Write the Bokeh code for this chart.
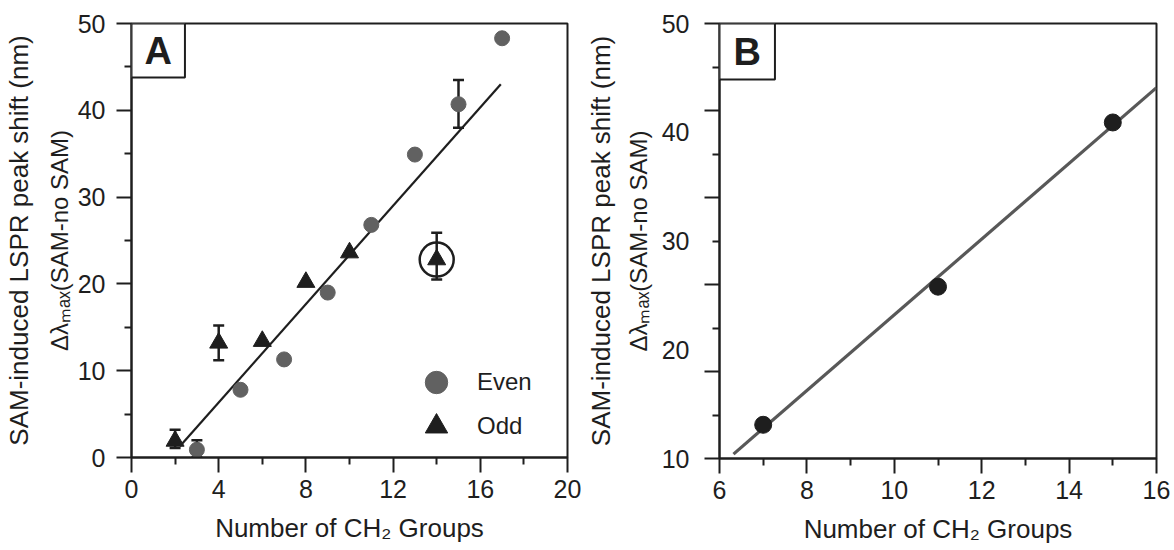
from bokeh.plotting import figure
from bokeh.models import (Range1d, FixedTicker, LinearAxis, Whisker, TeeHead,
                          ColumnDataSource, Label, Legend, LegendItem)
from bokeh.layouts import row
from bokeh.embed import file_html
from bokeh.resources import INLINE

FONT = "Liberation Sans"
INK = "#1e1e1e"
GRAY = "#616161"

# ---------------- Panel A data ----------------
even_x = [3, 5, 7, 9, 11, 13, 15, 17]
even_y = [0.9, 7.8, 11.3, 19.0, 26.8, 34.9, 40.7, 48.3]
odd_x = [2, 4, 6, 8, 10, 14]
odd_y = [1.9, 13.2, 13.4, 20.2, 23.6, 22.8]
even_err_x = [3, 15]
even_err_lo = [0.0, 38.0]
even_err_hi = [2.0, 43.5]
odd_err_x = [2, 4, 14]
odd_err_lo = [1.1, 11.2, 20.5]
odd_err_hi = [3.2, 15.2, 25.9]
outlier_x = [14]
outlier_y = [22.8]
fit_a_x = [2.22, 16.94]
fit_a_y = [1.3, 43.0]
xa_major = [0, 4, 8, 12, 16, 20]
xa_minor = [2, 6, 10, 14, 18]
ya_major = [0, 10, 20, 30, 40, 50]
ya_minor = [5, 15, 25, 35, 45]

# ---------------- Panel B data ----------------
b_x = [7, 11, 15]
b_y = [13.1, 25.8, 40.9]
fit_b_x = [6.32, 16]
fit_b_y = [10.4, 44.1]
xb_major = [6, 8, 10, 12, 14, 16]
xb_minor = [7, 9, 11, 13, 15]
yb_tick_major = [10, 18, 26, 34, 42, 50]
yb_tick_minor = [14, 22, 30, 38, 46]
yb_labels = [10, 20, 30, 40, 50]

YLABEL1 = "SAM-induced LSPR peak shift (nm)"
YLABEL2 = "\u0394\u03bb\u2098\u2090\u2093(SAM-no SAM)"
XLABEL = "Number of CH\u2082 Groups"


def style_axis(ax, major, minor, label_standoff):
    ax.ticker = FixedTicker(ticks=major, minor_ticks=minor)
    ax.axis_line_color = INK
    ax.axis_line_width = 2
    ax.major_tick_line_color = INK
    ax.major_tick_line_width = 2
    ax.minor_tick_line_color = INK
    ax.minor_tick_line_width = 2
    ax.major_tick_out = 15
    ax.major_tick_in = 0
    ax.minor_tick_out = 7
    ax.minor_tick_in = 0
    ax.major_label_text_font = FONT
    ax.major_label_text_font_size = "25px"
    ax.major_label_text_color = INK
    ax.major_label_standoff = label_standoff
    ax.axis_label_text_font = FONT
    ax.axis_label_text_font_size = "26px"
    ax.axis_label_text_font_style = "normal"
    ax.axis_label_text_color = INK
    ax.axis_label_text_line_height = 1.0


def label_only_axis(text, size, standoff):
    """An extra left axis that only carries an axis title."""
    ax = LinearAxis()
    style_axis(ax, [], [], 0)
    ax.axis_line_color = None
    ax.major_tick_line_color = None
    ax.minor_tick_line_color = None
    ax.major_tick_out = 0
    ax.minor_tick_out = 0
    ax.major_label_text_font_size = "0px"
    ax.axis_label = text
    ax.axis_label_text_font_size = size
    ax.axis_label_standoff = standoff
    return ax


def base_fig(xr, yr, fw, fh, bl, br, bb):
    p = figure(frame_width=fw, frame_height=fh, x_range=xr, y_range=yr,
               output_backend="svg", toolbar_location=None,
               min_border_left=bl, min_border_right=br,
               min_border_top=23, min_border_bottom=bb)
    p.xgrid.visible = False
    p.ygrid.visible = False
    p.outline_line_color = INK
    p.outline_line_width = 2
    p.outline_line_alpha = 1
    p.background_fill_color = "white"
    p.border_fill_color = "white"
    return p


def panel_letter(p, x, y, letter, pad):
    p.add_layout(Label(x=x, y=y, text=letter, text_font=FONT,
                       text_font_style="bold", text_font_size="38px",
                       text_color=INK, text_align="left", text_baseline="top",
                       border_line_color=INK, border_line_width=2,
                       background_fill_color="white", padding=pad))


# ================= Panel A =================
pA = base_fig(Range1d(0, 20), Range1d(0, 50), 436, 434, 130, 14, 92)
style_axis(pA.xaxis[0], xa_major, xa_minor, 7)
pA.xaxis[0].axis_label = XLABEL
pA.xaxis[0].axis_label_standoff = 12

yA = pA.yaxis[0]
style_axis(yA, ya_major, ya_minor, 11)
yA.axis_label = YLABEL2
yA.axis_label_text_font_size = "24px"
yA.axis_label_standoff = 2
pA.add_layout(label_only_axis(YLABEL1, "26px", 9), "left")

pA.line(fit_a_x, fit_a_y, line_color=INK, line_width=2.2)

for xs, lo, hi in ((even_err_x, even_err_lo, even_err_hi),
                   (odd_err_x, odd_err_lo, odd_err_hi)):
    src = ColumnDataSource(dict(x=xs, lower=lo, upper=hi))
    w = Whisker(base="x", lower="lower", upper="upper", source=src,
                dimension="height", line_color=INK, line_width=2.5,
                upper_head=TeeHead(size=11, line_color=INK, line_width=2.5),
                lower_head=TeeHead(size=11, line_color=INK, line_width=2.5),
                level="underlay")
    pA.add_layout(w)

r_even = pA.scatter(even_x, even_y, marker="circle", size=15,
                    fill_color=GRAY, line_color=GRAY)
r_odd = pA.scatter(odd_x, odd_y, marker="triangle", size=18,
                   fill_color=INK, line_color=INK)
pA.scatter(outlier_x, outlier_y, marker="circle", size=34,
           fill_color=None, line_color=INK, line_width=2.5)

for item, loc in ((LegendItem(label="Even", renderers=[r_even]), (277, 47)),
                  (LegendItem(label="Odd", renderers=[r_odd]), (277, 3))):
    lg = Legend(items=[item], location=loc, padding=0, margin=0, spacing=0,
                glyph_width=56, glyph_height=56, label_standoff=13,
                label_text_font=FONT, label_text_font_size="24px",
                label_text_color=INK, border_line_color=None,
                background_fill_alpha=0)
    pA.add_layout(lg)

panel_letter(pA, 0, 50, "A", dict(left=13, right=13, top=6, bottom=6))

# ================= Panel B =================
pB = base_fig(Range1d(6, 16), Range1d(10, 50), 437, 435, 138, 19, 91)
style_axis(pB.xaxis[0], xb_major, xb_minor, 7)
pB.xaxis[0].axis_label = XLABEL
pB.xaxis[0].axis_label_standoff = 12

# inner axis: tick marks only
yin = pB.yaxis[0]
style_axis(yin, yb_tick_major, yb_tick_minor, 0)
yin.major_label_text_font_size = "0px"
yin.major_label_overrides = {t: "" for t in yb_tick_major}

# middle axis: tick labels + second title line
ymid = LinearAxis()
style_axis(ymid, yb_labels, [], 15)
ymid.axis_line_color = None
ymid.major_tick_line_color = None
ymid.minor_tick_line_color = None
ymid.major_tick_out = 0
ymid.minor_tick_out = 0
ymid.axis_label = YLABEL2
ymid.axis_label_text_font_size = "24px"
ymid.axis_label_standoff = 7
pB.add_layout(ymid, "left")
pB.add_layout(label_only_axis(YLABEL1, "26px", 6), "left")

pB.line(fit_b_x, fit_b_y, line_color="#585858", line_width=3.2)
pB.scatter(b_x, b_y, marker="circle", size=17, fill_color=INK, line_color=INK)

panel_letter(pB, 6, 50, "B", dict(left=14, right=14, top=7, bottom=7))

layout = row(pA, pB)
open("out.html", "w").write(file_html(layout, INLINE))
